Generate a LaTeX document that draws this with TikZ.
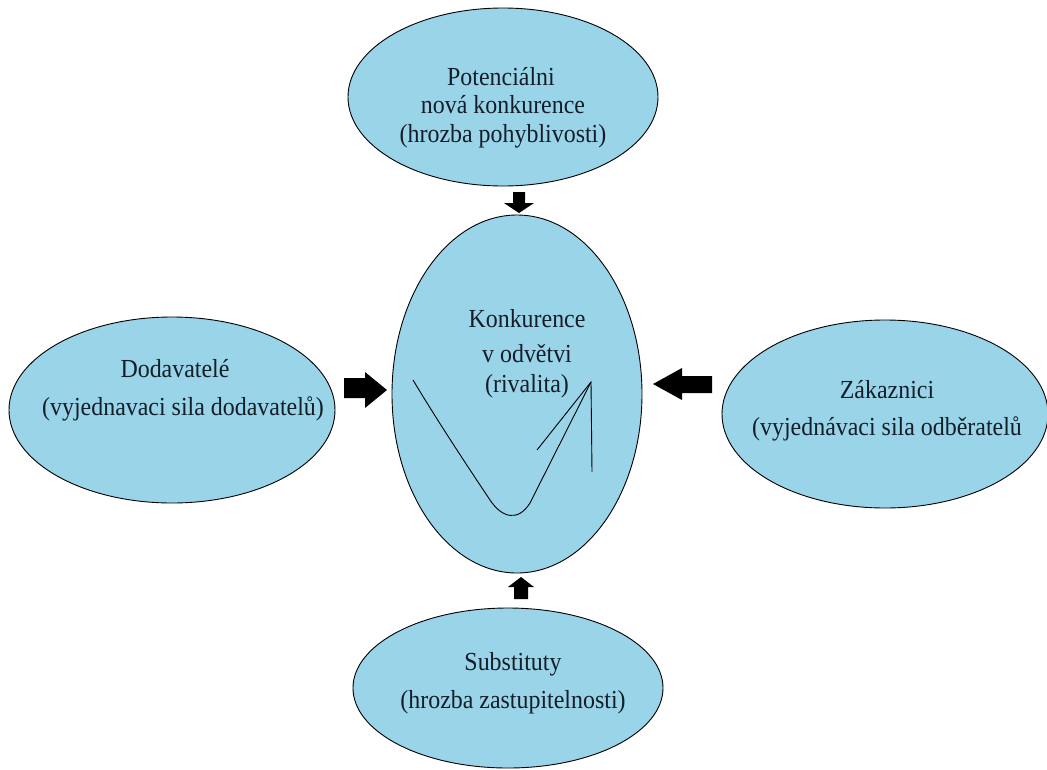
\documentclass[tikz,border=0pt]{standalone}
\usepackage{fontspec}
\setmainfont[FakeStretch=0.92]{Liberation Serif}
\usetikzlibrary{shapes.geometric}
\definecolor{ellfill}{RGB}{153,212,232}
\definecolor{txt}{RGB}{20,30,40}
\tikzset{
  ell/.style={ellipse, draw=black, line width=0.9pt, fill=ellfill, inner sep=0pt},
  lbl/.style={anchor=base, text=txt, font=\fontsize{26}{30}\selectfont, inner sep=0pt},
  fatarrow/.style={fill=black, draw=none},
  sketch/.style={draw=black, line width=0.9pt}
}
\begin{document}
\begin{tikzpicture}[x=1pt,y=-1pt]
\useasboundingbox (0,0) rectangle (1047,769);
\clip (0,0) rectangle (1047,769);
\fill[white] (0,0) rectangle (1047,769);
% ellipses
\node[ell, minimum width=310pt, minimum height=178pt] (top) at (503,97) {};
\node[ell, minimum width=250pt, minimum height=358pt] (mid) at (517,394) {};
\node[ell, minimum width=326pt, minimum height=186pt] (left) at (172,410) {};
\node[ell, minimum width=326pt, minimum height=188pt] (right) at (885,414) {};
\node[ell, minimum width=310pt, minimum height=160pt] (bot) at (508,688) {};
% texts
\node[lbl] (t1) at (501,85) {Potenciálni};
\node[lbl] (t2) at (503,113) {nová konkurence};
\node[lbl] (t3) at (503,142) {(hrozba pohyblivosti)};
\node[lbl] (m1) at (527,327) {Konkurence};
\node[lbl] (m2) at (527,362) {v odvětvi};
\node[lbl] (m3) at (527,392) {(rivalita)};
\node[lbl] (l1) at (175,377) {Dodavatelé};
\node[lbl] (l2) at (183,415) {(vyjednavaci sila dodavatelů)};
\node[lbl] (r1) at (887,398) {Zákaznici};
\node[lbl] (r2) at (887,435) {(vyjednávaci sila odběratelů};
\node[lbl] (b1) at (513,670) {Substituty};
\node[lbl] (b2) at (513,708) {(hrozba zastupitelnosti)};
% sketch inside the centre
\coordinate (c1) at (413,380);
\coordinate (c2) at (591,382);
\coordinate (c3) at (537,450);
\coordinate (c4) at (592,472);
\draw[sketch] (c1) .. controls (440,425) and (470,470) .. (490,500) .. controls (502,518) and (518,522) .. (530,503) -- (c2);
\draw[sketch] (c3) -- (c2) -- (c4);
% arrows
\coordinate (at) at (519,213);
\fill[fatarrow] (at) -- ++(-15,-10) -- ++(9,0) -- ++(0,-11) -- ++(12,0) -- ++(0,11) -- ++(9,0) -- cycle;
\coordinate (ab) at (521,577);
\fill[fatarrow] (ab) -- ++(-13,10) -- ++(6,0) -- ++(0,12) -- ++(14,0) -- ++(0,-12) -- ++(6,0) -- cycle;
\coordinate (al) at (387,390);
\fill[fatarrow] (al) -- ++(-22,-18) -- ++(0,6) -- ++(-21,0) -- ++(0,20) -- ++(21,0) -- ++(0,10) -- cycle;
\coordinate (ar) at (653,384);
\fill[fatarrow] (ar) -- ++(29,-16) -- ++(0,8) -- ++(30,0) -- ++(0,17) -- ++(-30,0) -- ++(0,7) -- cycle;
\end{tikzpicture}
\end{document}
